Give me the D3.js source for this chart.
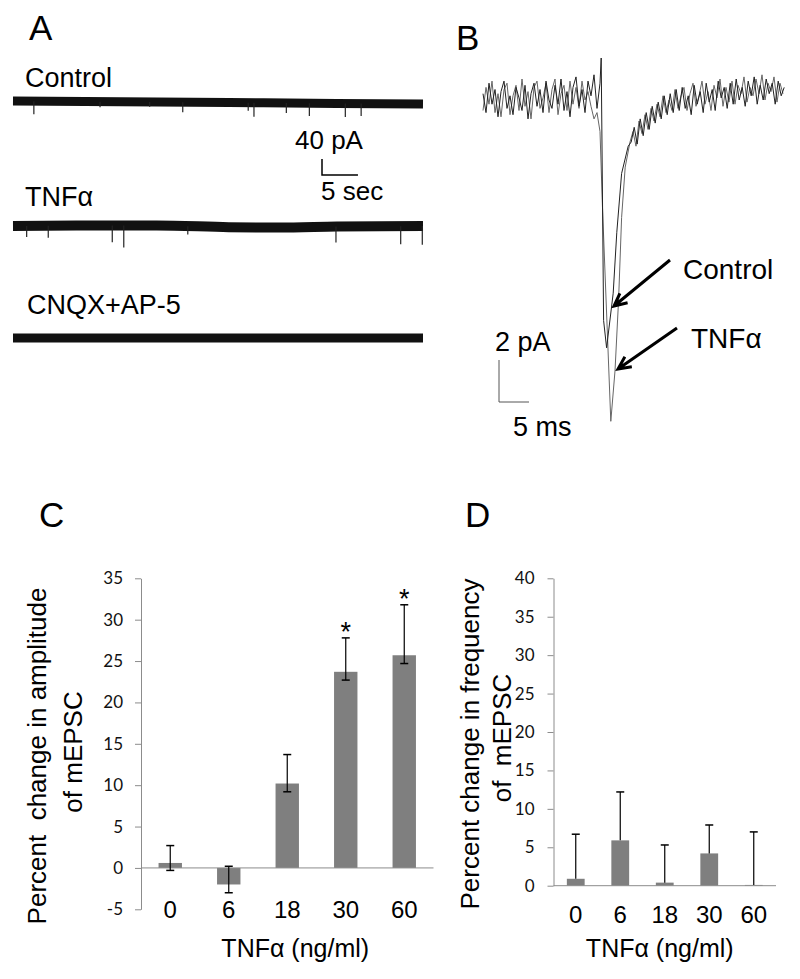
<!DOCTYPE html>
<html>
<head>
<meta charset="utf-8">
<script src="https://cdn.jsdelivr.net/npm/d3@7"></script>
<style>
  body { margin: 0; background: #fff; }
  text { white-space: pre; }
</style>
</head>
<body>
<svg id="fig" width="800" height="979"></svg>
<script>
// ---------- data ----------
// panel A: whole-cell recordings (time in s, current in pA)
var traceNames = ['Control', 'TNFα', 'CNQX+AP-5'];
var driftT = [[0, 15, 30, 45, 57], [0, 10, 20, 30, 37, 45, 57], [0, 57]];
var driftI = [[0, -2, -4, -6, -7.5], [0, 1.5, 1.5, -3, -4, -1.5, 0], [0, 0]];
var spikeT = [
  [2.9, 12.1, 19, 23.6, 32.7, 33.5, 38, 41.2, 46.2, 48.4],
  [1.9, 4.9, 13.8, 15.4, 24.3, 44.9, 53.9, 56.9],
  []
];
var spikeI = [
  [33, 14, 12, 25, 20, 35, 25, 32, 34, 31],
  [28, 30, 42, 55, 21, 40, 45, 47],
  []
];

// panel B: averaged mEPSC (time in ms, current in pA), baseline sampled every 0.5 ms
var ctrlPre = [0.3,-0.6,0.8,-0.2,0.5,-0.8,0.4,0.9,-0.4,0.2,-0.7,0.6,0.1,-0.5,0.7,-0.9,0.3,0.8,-0.3,0.5,
               -0.6,0.9,0.0,-0.4,0.7,-0.2,1.0,-0.5,0.4,-0.8,0.6,1.1,-0.3,0.5,-0.6,0.9,0.2,1.2,-0.4,0.8];
var ctrlEventT = [19.7, 20.1, 20.6, 21.7, 22.3, 23.1, 24.2];
var ctrlEventI = [2.0, -10.5, -11.8, -9.2, -6.3, -3.5, -2.2];
var ctrlPost = [-2.0,-1.3,-2.1,-0.9,-1.7,-0.6,-1.4,-0.3,-1.1,-0.1,-0.9,0.2,-0.7,0.3,-0.6,0.5,-0.5,0.6,-0.4,0.2,
                -0.7,0.7,-0.2,0.4,-0.6,0.8,-0.1,0.5,-0.5,0.9,0.1,0.6,-0.4,0.8,-0.2,1.0,0.0,0.6,-0.3,0.9,
                0.2,1.1,-0.2,0.7,0.0,1.0,0.3,0.8,-0.2,0.9,0.2,0.6];
var tnfPre = [-0.5,0.6,-0.2,0.9,-0.6,0.3,-0.8,0.5,0.8,-0.7,0.2,0.7,-0.5,1.0,-0.3,0.4,-0.9,0.6,0.9,-0.4,
              0.1,0.8,-0.6,0.5,1.0,-0.7,0.3,0.7,-0.5,0.9,-0.2,0.6,-0.4,0.9,0.0,0.4];
var tnfEventT = [18.0, 18.5, 19.0, 19.5, 19.9, 21.3, 22.0, 22.6, 23.1, 23.7, 24.5];
var tnfEventI = [-0.3, -0.9, -0.6, -1.5, -5.0, -15.3, -12.9, -9.5, -5.6, -3.2, -2.0];
var tnfPost = [-1.5,-2.2,-1.0,-1.6,-0.7,-1.4,-0.4,-1.0,-0.2,-0.8,0.2,-0.6,0.0,-0.5,0.5,-0.4,0.2,0.6,-0.5,0.3,
               0.8,-0.3,0.2,0.9,-0.2,0.4,-0.5,0.7,0.1,1.0,-0.3,0.6,-0.1,0.9,-0.2,0.7,0.3,1.1,-0.1,0.6,
               0.2,1.0,0.3,1.2,0.0,0.8,0.4,1.1,-0.1,0.8,0.3];
var sampleDt = 0.5;

// panels C and D: bar charts
var doses = ['0', '6', '18', '30', '60'];
var ampMean = [0.6, -2.0, 10.2, 23.7, 25.7];
var ampLow = [-0.3, -3.0, 9.2, 22.7, 24.7];
var ampHigh = [2.7, 0.2, 13.7, 27.8, 31.8];
var ampSig = [false, false, false, true, true];
var ampTicks = [-5, 0, 5, 10, 15, 20, 25, 30, 35];
var freqMean = [0.9, 5.9, 0.4, 4.2, 0.1];
var freqHigh = [6.7, 12.2, 5.3, 7.9, 7.0];
var freqTicks = [0, 5, 10, 15, 20, 25, 30, 35, 40];

// ---------- drawing ----------
var svg = d3.select('#fig');
var sans = "'Liberation Sans', Arial, sans-serif";
var tickFont = "Lato, 'Open Sans', sans-serif";
var gray = '#7f7f7f';
var axisGray = '#8c8c8c';

function label(x, y, txt, size, anchor) {
    return svg.append('text')
        .attr('x', x).attr('y', y)
        .attr('font-family', sans)
        .attr('font-size', size)
        .attr('text-anchor', anchor || 'start')
        .attr('fill', '#000')
        .text(txt);
}

// panel letters
label(29, 40, 'A', 35);
label(456, 50, 'B', 35);
label(39, 527, 'C', 35);
label(465, 527, 'D', 35);

// ---- panel A ----
var aX = d3.scaleLinear().domain([0, 57]).range([13, 423]);
var rowY = [101, 226, 338];
var labelY = [87, 206, 314];
var labelX = [25, 25, 27];
var pxPerPA = 0.4;

traceNames.forEach(function (name, k) {
    label(labelX[k], labelY[k], name, 27);
    var yOf = function (pA) { return rowY[k] - pA * pxPerPA; };
    var drift = d3.scaleLinear().domain(driftT[k]).range(driftI[k]);
    var pts = driftT[k].map(function (t, i) { return [aX(t), yOf(driftI[k][i])]; });
    svg.append('path')
        .attr('d', d3.line().curve(d3.curveMonotoneX)(pts))
        .attr('fill', 'none')
        .attr('stroke', '#111')
        .attr('stroke-width', k === 1 ? 10 : 9);
    svg.selectAll(null)
        .data(spikeT[k].map(function (t, i) { return { t: t, a: spikeI[k][i] }; }))
        .enter().append('line')
        .attr('x1', function (d) { return aX(d.t); })
        .attr('x2', function (d) { return aX(d.t); })
        .attr('y1', function (d) { return yOf(drift(d.t)); })
        .attr('y2', function (d) { return yOf(drift(d.t)) + d.a * pxPerPA; })
        .attr('stroke', '#222')
        .attr('stroke-width', 1.2);
});

// scale bar A: 40 pA / 5 sec
var sbx = 322, sby = 175;
svg.append('path')
    .attr('d', 'M' + sbx + ',' + (sby - 40 * pxPerPA) + 'V' + sby + 'H' + (sbx + aX(5) - aX(0)))
    .attr('fill', 'none').attr('stroke', '#000').attr('stroke-width', 1.5);
label(295, 149, '40 pA', 26);
label(321, 200, '5 sec', 26);

// ---- panel B ----
var bX = d3.scaleLinear().domain([0, 50]).range([483, 783]);
var bY = d3.scaleLinear().domain([0, -2]).range([100, 142]);

function buildTrace(pre, evT, evI, post) {
    var pts = pre.map(function (v, i) { return [i * sampleDt, v]; });
    evT.forEach(function (t, i) { pts.push([t, evI[i]]); });
    var t0 = evT[evT.length - 1] + sampleDt;
    post.forEach(function (v, i) { pts.push([t0 + i * sampleDt, v]); });
    return pts;
}
var bLine = d3.line().x(function (d) { return bX(d[0]); }).y(function (d) { return bY(d[1]); });

svg.append('path')
    .attr('d', bLine(buildTrace(tnfPre, tnfEventT, tnfEventI, tnfPost)))
    .attr('fill', 'none').attr('stroke', '#666').attr('stroke-width', 1);
svg.append('path')
    .attr('d', bLine(buildTrace(ctrlPre, ctrlEventT, ctrlEventI, ctrlPost)))
    .attr('fill', 'none').attr('stroke', '#222').attr('stroke-width', 1);

// arrows
function arrow(x1, y1, x2, y2) {
    var ang = Math.atan2(y2 - y1, x2 - x1), h = 14, w = 0.45;
    var a1 = [x2 - h * Math.cos(ang - w), y2 - h * Math.sin(ang - w)];
    var a2 = [x2 - h * Math.cos(ang + w), y2 - h * Math.sin(ang + w)];
    svg.append('path')
        .attr('d', 'M' + x1 + ',' + y1 + 'L' + x2 + ',' + y2 +
              'M' + a1 + 'L' + x2 + ',' + y2 + 'L' + a2)
        .attr('fill', 'none').attr('stroke', '#000').attr('stroke-width', 3);
}
arrow(670, 260, 614, 306);
arrow(677, 328, 618, 369);
label(683, 279, 'Control', 28);
label(691, 348, 'TNFα', 28);

// scale bar B: 2 pA / 5 ms
var bsx = 499, bsy = 402;
svg.append('path')
    .attr('d', 'M' + bsx + ',' + (bsy - (bY(-2) - bY(0))) + 'V' + bsy + 'H' + (bsx + bX(5) - bX(0)))
    .attr('fill', 'none').attr('stroke', '#555').attr('stroke-width', 1);
label(495, 351, '2 pA', 27);
label(513, 436, '5 ms', 27);

// ---- bar panels ----
function barPanel(opt) {
    var x = d3.scaleBand().domain(doses).range(opt.xr);
    var y = d3.scaleLinear().domain(opt.yd).range(opt.yr);
    var g = svg.append('g');
    var bw = x.bandwidth() * 0.4;

    var ax = g.append('g')
        .attr('transform', 'translate(' + opt.xr[0] + ',0)')
        .call(d3.axisLeft(y).tickValues(opt.ticks).tickSize(6).tickSizeOuter(0)
            .tickPadding(opt.pad).tickFormat(function (d) { return String(d); }));
    ax.select('.domain').attr('stroke', axisGray);
    ax.selectAll('.tick line').attr('stroke', axisGray);
    ax.selectAll('.tick text').attr('font-family', tickFont).attr('font-size', 17).attr('fill', '#111');

    g.selectAll('.bar').data(opt.mean).enter().append('rect')
        .attr('class', 'bar')
        .attr('x', function (d, i) { return x(doses[i]) + (x.bandwidth() - bw) / 2; })
        .attr('y', function (d) { return y(Math.max(0, d)); })
        .attr('width', bw)
        .attr('height', function (d) { return Math.abs(y(d) - y(0)); })
        .attr('fill', gray);

    g.append('line')
        .attr('x1', opt.xr[0]).attr('x2', opt.xr[1])
        .attr('y1', y(0)).attr('y2', y(0))
        .attr('stroke', axisGray).attr('stroke-width', 1);

    var cx = function (i) { return x(doses[i]) + x.bandwidth() / 2; };
    var cap = 4;
    opt.high.forEach(function (hi, i) {
        var lo = opt.low ? opt.low[i] : opt.mean[i];
        g.append('line')
            .attr('x1', cx(i)).attr('x2', cx(i))
            .attr('y1', y(lo)).attr('y2', y(hi))
            .attr('stroke', '#000').attr('stroke-width', 1.2);
        g.append('line')
            .attr('x1', cx(i) - cap).attr('x2', cx(i) + cap)
            .attr('y1', y(hi)).attr('y2', y(hi))
            .attr('stroke', '#000').attr('stroke-width', 1.5);
        if (opt.low) {
            g.append('line')
                .attr('x1', cx(i) - cap).attr('x2', cx(i) + cap)
                .attr('y1', y(lo)).attr('y2', y(lo))
                .attr('stroke', '#000').attr('stroke-width', 1.5);
        }
        if (opt.sig && opt.sig[i]) {
            g.append('text')
                .attr('x', cx(i)).attr('y', y(hi) + 3)
                .attr('text-anchor', 'middle')
                .attr('font-family', sans).attr('font-size', 27)
                .text('*');
        }
    });

    doses.forEach(function (d, i) {
        g.append('text')
            .attr('x', cx(i)).attr('y', opt.catY)
            .attr('text-anchor', 'middle')
            .attr('font-family', sans).attr('font-size', 24)
            .text(d);
    });
    label((opt.xr[0] + opt.xr[1]) / 2 + opt.titleDx, 957, 'TNFα (ng/ml)', 25, 'middle');

    opt.ylab.forEach(function (t, k) {
        svg.append('text')
            .attr('transform', 'translate(' + opt.ylabPos[k][0] + ',' + opt.ylabPos[k][1] + ') rotate(-90)')
            .attr('dy', '0.35em')
            .attr('text-anchor', 'middle')
            .attr('font-family', sans).attr('font-size', 26)
            .text(t);
    });
}

barPanel({
    xr: [141, 433.5], yd: [-5, 35], yr: [909.3, 578.3], ticks: ampTicks, pad: 12,
    mean: ampMean, low: ampLow, high: ampHigh, sig: ampSig, catY: 918, titleDx: 8,
    ylab: ['Percent  change in amplitude', 'of mEPSC'], ylabPos: [[37, 756], [73, 752]]
});
barPanel({
    xr: [553.5, 776], yd: [0, 40], yr: [885.7, 578.3], ticks: freqTicks, pad: 13,
    mean: freqMean, low: null, high: freqHigh, sig: null, catY: 923, titleDx: -5,
    ylab: ['Percent change in frequency', 'of  mEPSC'], ylabPos: [[470, 744], [502, 738]]
});
</script>
</body>
</html>
